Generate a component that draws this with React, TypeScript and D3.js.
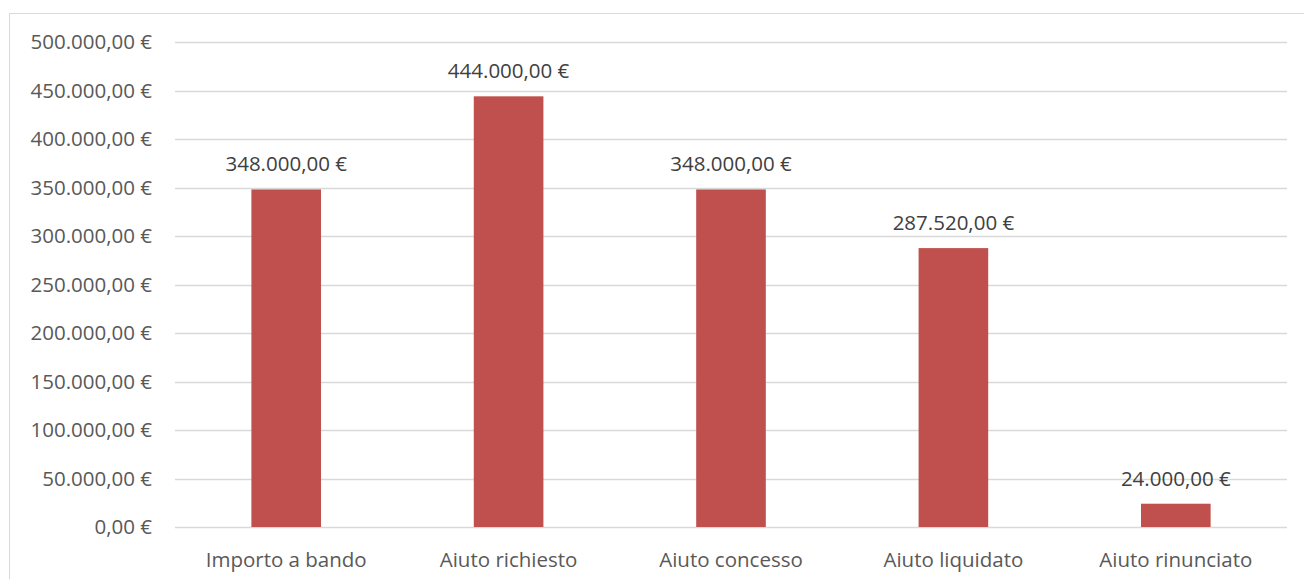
import React from "react";
import * as d3 from "d3";

const categories = ["Importo a bando", "Aiuto richiesto", "Aiuto concesso", "Aiuto liquidato", "Aiuto rinunciato"];
const values = [348000, 444000, 348000, 287520, 24000];
const yTicks = [0, 50000, 100000, 150000, 200000, 250000, 300000, 350000, 400000, 450000, 500000];

const W = 1304;
const H = 579;
const FONT = "'Open Sans', sans-serif";
const FS = 20.5;
const TEXT = "#595959";

const locale = d3.formatLocale({ decimal: ",", thousands: ".", grouping: [3], currency: ["", " €"] });
const fmt = (v: number) => locale.format("$,.2f")(v);

export default function App() {
  const left = 175, right = 1287, top = 42, bottom = 527;
  const x = d3.scaleBand<string>().domain(categories).range([left, right]).paddingInner(0.687).paddingOuter(0.3435);
  const y = d3.scaleLinear().domain([0, 500000]).range([bottom, top]);
  return (
    <svg width={W} height={H} style={{ position: "absolute", left: 0, top: 0 }}>
      <rect x={0} y={0} width={W} height={H} fill="#fff" />
      <rect x={9.5} y={13.5} width={W + 10} height={H + 10} fill="none" stroke="#D9D9D9" strokeWidth={1} />
      {yTicks.map((t) => (
        <g key={t}>
          <line x1={left} x2={right} y1={Math.round(y(t)) + 0.5} y2={Math.round(y(t)) + 0.5} stroke="#D9D9D9" strokeWidth={1.3} />
          <text x={152} y={y(t)} dy="0.36em" textAnchor="end" fontFamily={FONT} fontSize={FS} fill={TEXT}>
            {fmt(t)}
          </text>
        </g>
      ))}
      {categories.map((c, i) => {
        const cx = (x(c) as number) + x.bandwidth() / 2;
        return (
          <g key={c}>
            <rect x={x(c)} y={y(values[i])} width={x.bandwidth()} height={bottom - y(values[i])} fill="#C0504D" />
            <text x={cx} y={y(values[i]) - 18} textAnchor="middle" fontFamily={FONT} fontSize={FS} fill="#404040">
              {fmt(values[i])}
            </text>
            <text x={cx} y={566.5} textAnchor="middle" fontFamily={FONT} fontSize={FS} fill={TEXT}>
              {c}
            </text>
          </g>
        );
      })}
    </svg>
  );
}
